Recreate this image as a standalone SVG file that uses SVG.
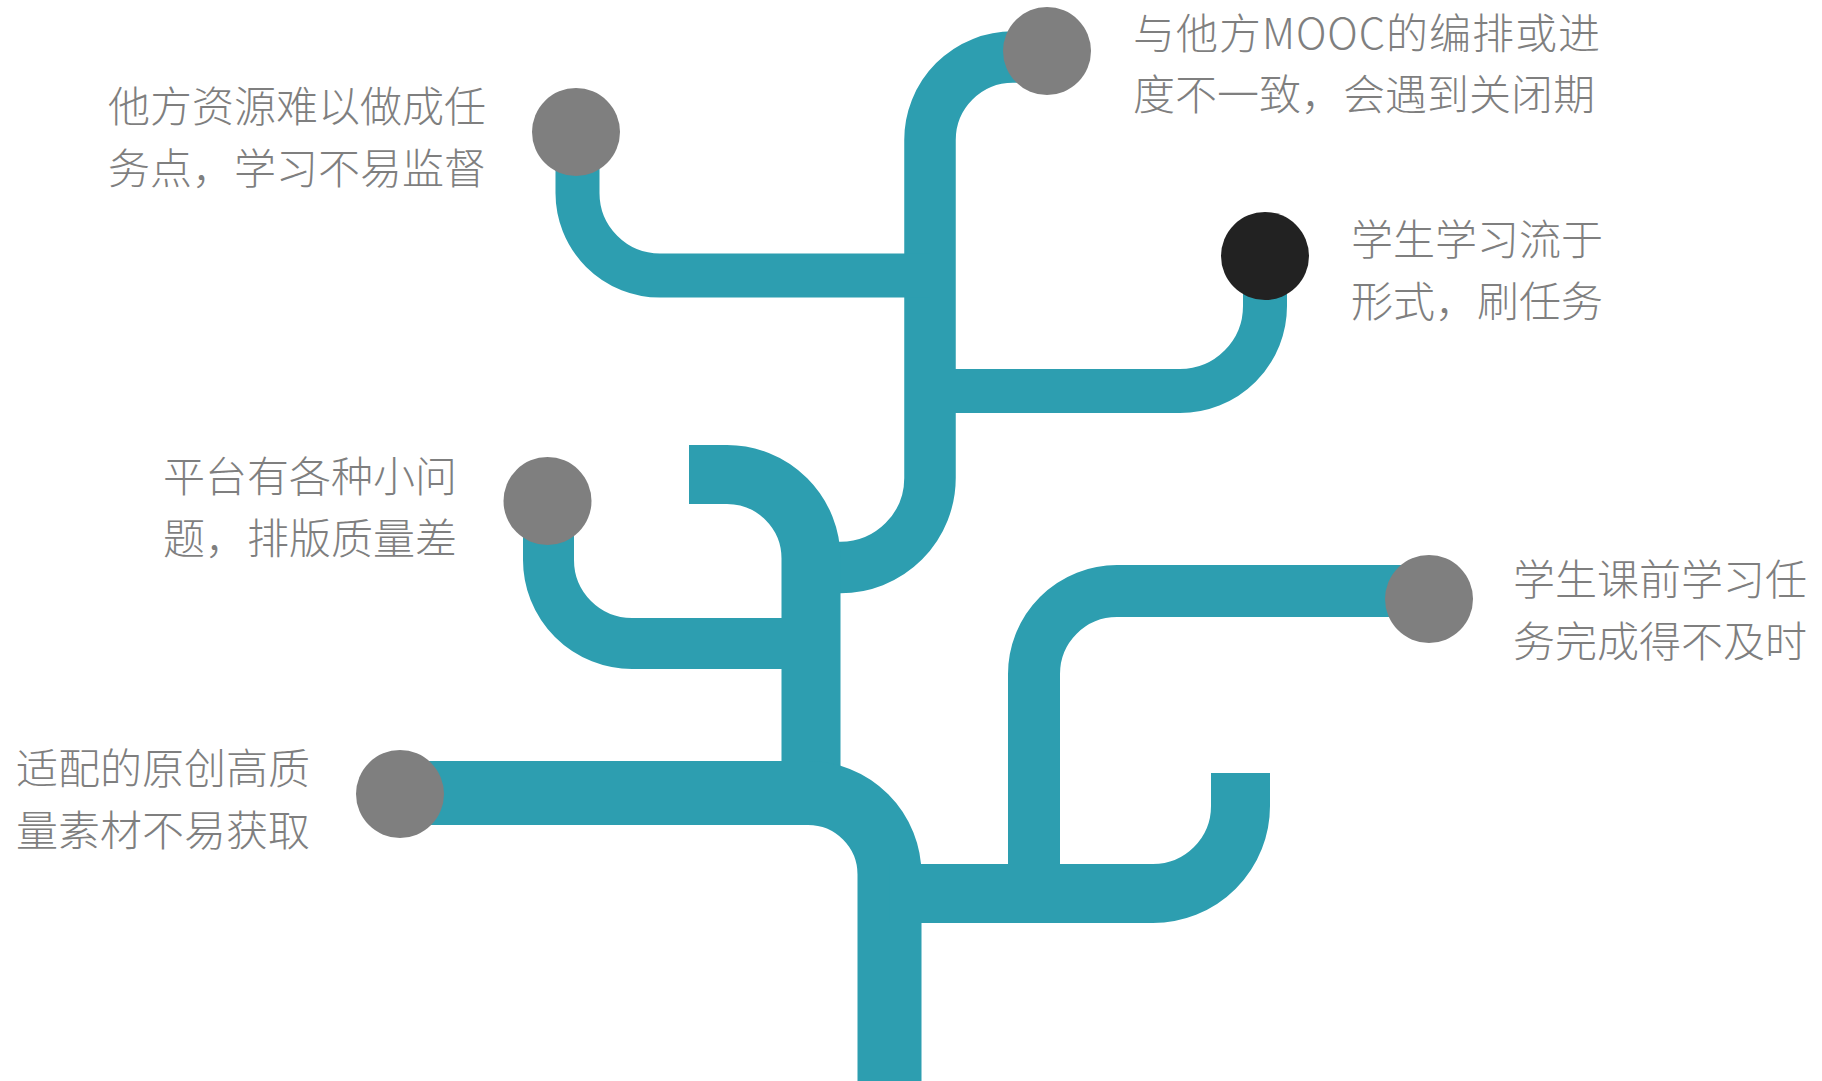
<svg xmlns="http://www.w3.org/2000/svg" width="1822" height="1081" viewBox="0 0 1822 1081">
<style>
.br{fill:none;stroke:#2D9EB0;stroke-linecap:butt;stroke-linejoin:miter}
.dot{fill:#7F7F7F}
.dk{fill:#222222}
.t{font-family:"Noto Sans CJK SC","Noto Sans",sans-serif;font-size:42px;fill:#7F7F7F;font-weight:300}
</style>
<rect width="1822" height="1081" fill="#FFFFFF"/>
<g id="connectors">
<path class="br" stroke-width="51.5" d="M1047,57 H1013 A83,83 0 0 0 930,140 V478 A89.5,89.5 0 0 1 840.5,567.5 H811"/>
<path class="br" stroke-width="44" d="M577.5,132 V193 A82.5,82.5 0 0 0 660,275.5 H930"/>
<path class="br" stroke-width="44" d="M930,391 H1180 A85,85 0 0 0 1265,306 V256"/>
<path class="br" stroke-width="59" d="M689,474.5 H727 A84,84 0 0 1 811,558.5 V800"/>
<path class="br" stroke-width="51" d="M548.5,501 V560 A83.5,83.5 0 0 0 632,643.5 H811"/>
<path class="br" stroke-width="64" d="M400,793 H808 A81.5,81.5 0 0 1 889.5,874.5 V1081"/>
<path class="br" stroke-width="59" d="M889.5,893.5 H1153 A87.5,87.5 0 0 0 1240.5,806 V773"/>
<path class="br" stroke-width="52" d="M1034,893 V674 A83,83 0 0 1 1117,591 H1429"/>
</g>
<g id="node-resource">
<circle class="dot" cx="576" cy="132" r="44"/>
<text class="t" x="108" y="122">他方资源难以做成任</text>
<text class="t" x="108" y="184">务点，学习不易监督</text>
</g>
<g id="node-mooc">
<circle class="dot" cx="1047" cy="51" r="44"/>
<text class="t" x="1133" y="49" textLength="467" lengthAdjust="spacing">与他方MOOC的编排或进</text>
<text class="t" x="1133" y="110">度不一致，会遇到关闭期</text>
</g>
<g id="node-formal">
<circle class="dk" cx="1265" cy="256" r="44"/>
<text class="t" x="1351" y="255">学生学习流于</text>
<text class="t" x="1351" y="317">形式，刷任务</text>
</g>
<g id="node-platform">
<circle class="dot" cx="547.5" cy="501" r="44"/>
<text class="t" x="163" y="492">平台有各种小问</text>
<text class="t" x="163" y="554">题，排版质量差</text>
</g>
<g id="node-material">
<circle class="dot" cx="400" cy="794" r="44"/>
<text class="t" x="16" y="784">适配的原创高质</text>
<text class="t" x="16" y="846">量素材不易获取</text>
</g>
<g id="node-preclass">
<circle class="dot" cx="1429" cy="599" r="44"/>
<text class="t" x="1513" y="595">学生课前学习任</text>
<text class="t" x="1513" y="657">务完成得不及时</text>
</g>
</svg>
